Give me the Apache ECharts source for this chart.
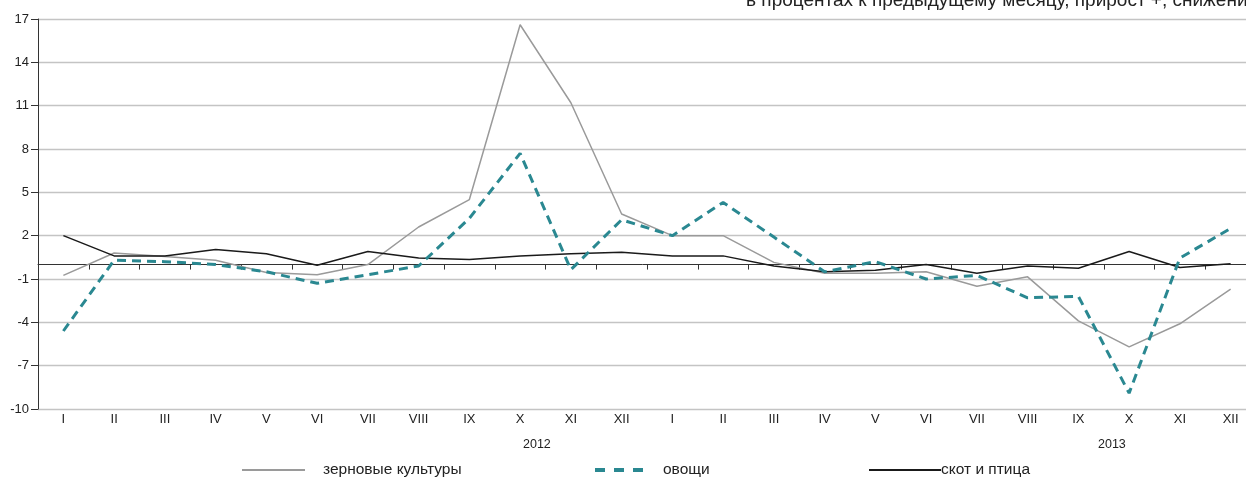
<!DOCTYPE html>
<html>
<head>
<meta charset="utf-8">
<script src="https://cdn.jsdelivr.net/npm/echarts@6/dist/echarts.min.js"></script>
<style>
html,body{margin:0;padding:0;background:#fff;}
#c{width:1246px;height:480px;}
</style>
</head>
<body>
<div id="c"></div>
<script>
var months = ['I','II','III','IV','V','VI','VII','VIII','IX','X','XI','XII','I','II','III','IV','V','VI','VII','VIII','IX','X','XI','XII'];
var years = ['2012','2013'];
var subtitle = 'в процентах к предыдущему месяцу, прирост +, снижение –';
var nameGrain = 'зерновые культуры';
var nameVeg = 'овощи';
var nameLive = 'скот и птица';
var grain = [-0.75, 0.8, 0.55, 0.3, -0.55, -0.7, 0.0, 2.6, 4.5, 16.6, 11.2, 3.5, 2.0, 2.0, 0.15, -0.6, -0.6, -0.5, -1.5, -0.85, -3.9, -5.7, -4.1, -1.7];
var veg = [-4.6, 0.3, 0.2, 0.0, -0.5, -1.3, -0.7, -0.1, 3.2, 7.7, -0.35, 3.1, 2.0, 4.3, 1.9, -0.5, 0.2, -1.0, -0.75, -2.3, -2.2, -8.9, 0.45, 2.5];
var live = [2.0, 0.6, 0.6, 1.05, 0.75, -0.05, 0.9, 0.45, 0.35, 0.6, 0.75, 0.85, 0.6, 0.6, -0.1, -0.5, -0.4, 0.0, -0.6, -0.1, -0.25, 0.9, -0.2, 0.05];
var yMin = -10, yMax = 17, yStep = 3;

var FONT = '"Liberation Sans", Arial, sans-serif';
var chart = echarts.init(document.getElementById('c'), null, {renderer: 'canvas'});
chart.setOption({
  animation: false,
  backgroundColor: '#ffffff',
  title: {
    text: subtitle,
    left: 741, top: -14,
    textStyle: {fontFamily: FONT, fontSize: 19, fontWeight: 'normal', color: '#222'}
  },
  grid: {left: 38, top: 19, width: 1218, height: 390, containLabel: false, outerBoundsMode: 'none'},
  legend: [
    {data: [nameGrain], left: 237, top: 457, itemWidth: 63, itemHeight: 2, itemGap: 0, icon: 'rect',
     textStyle: {fontFamily: FONT, fontSize: 15.5, color: '#222', padding: [0,0,0,13]}},
    {data: [nameVeg], left: 590, top: 457, itemWidth: 48, itemHeight: 4, itemGap: 0,
     icon: 'path://M0,0h10v4h-10z M19,0h10v4h-10z M38,0h10v4h-10z',
     textStyle: {fontFamily: FONT, fontSize: 15.5, color: '#222', padding: [0,0,0,15]}},
    {data: [nameLive], left: 864, top: 457, itemWidth: 72, itemHeight: 2, itemGap: 0, icon: 'rect',
     textStyle: {fontFamily: FONT, fontSize: 15.5, color: '#222', padding: [0,0,0,-5]}}
  ],
  xAxis: [
    {
      type: 'category', data: months, position: 'bottom', boundaryGap: true,
      axisLine: {show: false, onZero: false},
      axisTick: {show: false},
      axisLabel: {interval: 0, margin: 4, fontFamily: FONT, fontSize: 13, color: '#222'},
      splitLine: {show: false}
    },
    {
      type: 'category', data: months, position: 'top', boundaryGap: true,
      axisLine: {show: true, onZero: true, lineStyle: {color: '#333', width: 1}},
      axisTick: {show: true, inside: true, length: 5, interval: 0, lineStyle: {color: '#333'}},
      axisLabel: {show: false},
      splitLine: {show: false}
    }
  ],
  yAxis: {
    type: 'value', min: yMin, max: yMax, interval: yStep,
    axisLine: {show: true, lineStyle: {color: '#333', width: 1}},
    axisTick: {show: true, length: 7, lineStyle: {color: '#333'}},
    axisLabel: {margin: 9, fontFamily: FONT, fontSize: 13, color: '#222'},
    splitLine: {show: true, lineStyle: {color: '#c4c4c4', width: 1.3}}
  },
  graphic: [
    {type: 'text', left: 523, top: 438, style: {text: years[0], fontFamily: FONT, fontSize: 12.5, fill: '#222'}},
    {type: 'text', left: 1098, top: 438, style: {text: years[1], fontFamily: FONT, fontSize: 12.5, fill: '#222'}}
  ],
  series: [
    {name: nameGrain, type: 'line', data: grain, symbol: 'none', z: 2,
     lineStyle: {color: '#9a9a9a', width: 1.5}, itemStyle: {color: '#9a9a9a'}},
    {name: nameVeg, type: 'line', data: veg, symbol: 'none', z: 4,
     lineStyle: {color: '#2a8891', width: 3, type: [9, 6]}, itemStyle: {color: '#2a8891'}},
    {name: nameLive, type: 'line', data: live, symbol: 'none', z: 3,
     lineStyle: {color: '#1a1a1a', width: 1.5}, itemStyle: {color: '#1a1a1a'}}
  ]
});
</script>
</body>
</html>
